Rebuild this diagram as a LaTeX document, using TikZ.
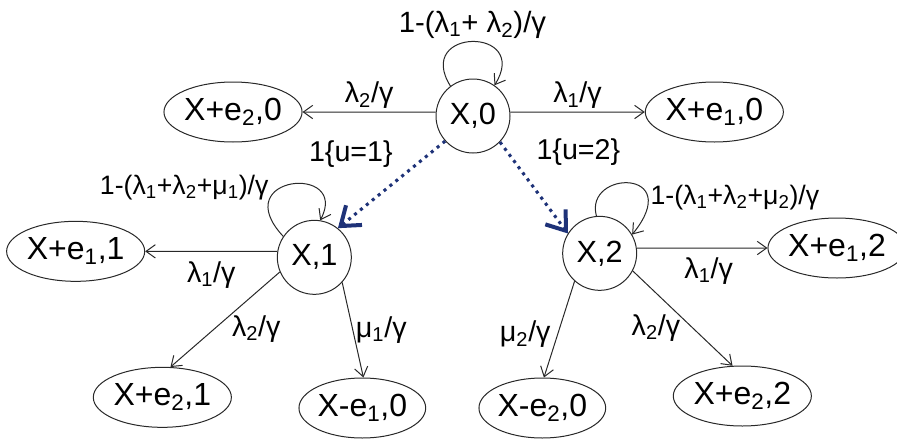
\documentclass[tikz,border=0pt]{standalone}
\usepackage{fontspec}
\setmainfont{Liberation Sans}
\usetikzlibrary{arrows.meta,positioning,shapes.geometric}
\definecolor{cLine}{RGB}{40,40,40}
\definecolor{cCtrl}{RGB}{30,50,120}
\newcommand{\lo}[1]{\textsubscript{#1}}

\begin{document}
\begin{tikzpicture}[
   st/.style={circle,draw=cLine,line width=.75pt,minimum size=55.5pt,inner sep=0pt,on grid,font=\fontsize{23}{26}\selectfont},
   ov/.style={ellipse,draw=cLine,line width=.75pt,minimum width=95pt,minimum height=45pt,inner sep=0pt,on grid,font=\fontsize{24}{27}\selectfont},
   ar/.style={-{Straight Barb[length=7pt,width=10pt]},line width=.75pt,cLine},
   ct/.style={-{Straight Barb[length=13pt,width=19pt,line width=3pt]},line width=2.3pt,cCtrl,dash pattern=on 2.3pt off 3.4pt},
   lb/.style={inner sep=2pt,text=black,font=\fontsize{21.5}{24}\selectfont},
   lp/.style={inner sep=2pt,text=black,font=\fontsize{20}{22}\selectfont}]
  \useasboundingbox (0,0) rectangle (672.75pt,-332.25pt);
  % states
  \node[st] (x0) at (354.75pt,-87pt) {X,0};
  \node[ov,above left=3pt and 180pt of x0]  (xe20) {X+e\lo{2},0};
  \node[ov,above right=3pt and 181pt of x0] (xe10) {X+e\lo{1},0};
  \node[st,below left=106pt and 119pt of x0] (x1) {X,1};
  \node[st,below right=103pt and 95pt of x0] (x2) {X,2};
  \node[ov,above left=4.5pt and 179pt of x1] (xe11) {X+e\lo{1},1};
  \node[ov,above right=4pt and 178pt of x2]  (xe12) {X+e\lo{1},2};
  \node[ov,below left=105pt and 114pt of x1] (xe21) {X+e\lo{2},1};
  \node[ov,below right=113pt and 36pt of x1] (xme10) {X-e\lo{1},0};
  \node[ov,below left=116pt and 43pt of x2]  (xme20) {X-e\lo{2},0};
  \node[ov,below right=107pt and 107pt of x2] (xe22) {X+e\lo{2},2};
  % transitions
  \draw[ar] (x0.127) .. controls +(122:52pt) and +(58:52pt) .. node[lb,above=0pt,font=\fontsize{22}{24}\selectfont] (t00) {1-(λ\lo{1}+ λ\lo{2})/γ} (x0.55);
  \draw[ar] (x0.174) -- node[lb,above] (t20) {λ\lo{2}/γ} (xe20.east);
  \draw[ar] (x0.6) -- node[lb,above] (t10) {λ\lo{1}/γ} (xe10.west);
  \draw[ct] (x0.222) -- node[lb,pos=.35,above left,xshift=-8pt] (u1) {1\{u=1\}} (x1.51);
  \draw[ct] (x0.-44) -- node[lb,pos=.3,above right,xshift=9pt] (u2) {1\{u=2\}} (x2.148);
  \draw[ar] (x1.146) .. controls +(133:63pt) and +(62:48pt) .. node[lp,pos=.3,anchor=east,yshift=6pt] (t11) {1-(λ\lo{1}+λ\lo{2}+μ\lo{1})/γ} (x1.81);
  \draw[ar] (x1.171) -- node[lb,below=5pt] (t1e1) {λ\lo{1}/γ} (xe11.east);
  \draw[ar] (x1.203) -- node[lb,pos=.6,right=11pt] (t1e2) {λ\lo{2}/γ} (xe21.75);
  \draw[ar] (x1.-42) -- node[lb,pos=.5,right] (t1m) {μ\lo{1}/γ} (xme10.88);
  \draw[ar] (x2.95) .. controls +(105:36pt) and +(51:64pt) .. node[lp,pos=.75,right] (t22) {1-(λ\lo{1}+λ\lo{2}+μ\lo{2})/γ} (x2.30);
  \draw[ar] (x2.8) -- node[lb,pos=.55,below=5pt] (t2e1) {λ\lo{1}/γ} (xe12.west);
  \draw[ar] (x2.228) -- node[lb,pos=.55,left=3pt] (t2m) {μ\lo{2}/γ} (xme20.87);
  \draw[ar] (x2.-28) -- node[lb,pos=.6,left=7pt] (t2e2) {λ\lo{2}/γ} (xe22.108);
\end{tikzpicture}
\end{document}
